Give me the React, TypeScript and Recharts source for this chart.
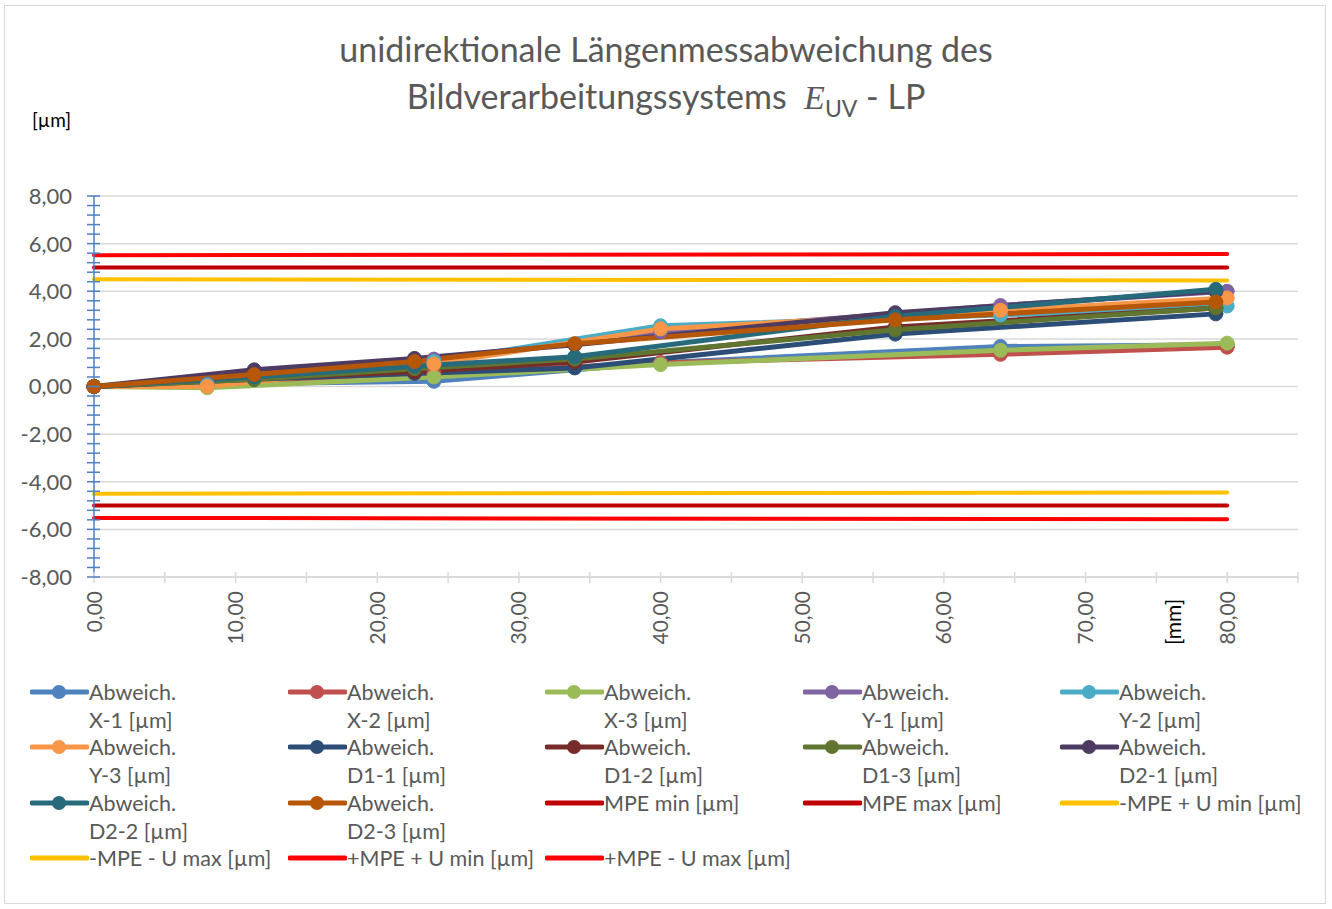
import { LineChart, Line, XAxis, YAxis, CartesianGrid } from "recharts";

// x positions (mm) for the axis runs and the diagonal runs
const xAchse = [0, 8, 24, 40, 64, 80];
const xDiag = [0, 11.31, 22.63, 33.94, 56.57, 79.2];
const xGrenze = [0, 80];

// deviations in µm
const abwX1 = [0, 0.1, 0.22, 1.0, 1.68, 1.75];
const abwX2 = [0, 0.05, 0.55, 1.0, 1.35, 1.65];
const abwX3 = [0, -0.05, 0.4, 0.92, 1.52, 1.82];
const abwY1 = [0, 0.05, 1.15, 2.3, 3.4, 4.0];
const abwY2 = [0, 0.05, 1.05, 2.55, 3.0, 3.38];
const abwY3 = [0, 0.0, 0.95, 2.42, 3.2, 3.72];
const abwD11 = [0, 0.3, 0.55, 0.78, 2.2, 3.05];
const abwD12 = [0, 0.35, 0.62, 1.03, 2.5, 3.3];
const abwD13 = [0, 0.3, 0.75, 1.15, 2.38, 3.3];
const abwD21 = [0, 0.7, 1.18, 1.75, 3.1, 4.0];
const abwD22 = [0, 0.4, 0.85, 1.25, 2.95, 4.08];
const abwD23 = [0, 0.5, 1.05, 1.8, 2.8, 3.55];

// limit lines
const mpeMin = [-5, -5];
const mpeMax = [5, 5];
const mpeNegUMin = [-4.5, -4.45];
const mpeNegUMax = [4.5, 4.45];
const mpePosUMin = [5.51, 5.56];
const mpePosUMax = [-5.52, -5.57];

const xTicks = [0, 5, 10, 15, 20, 25, 30, 35, 40, 45, 50, 55, 60, 65, 70, 75, 80, 85];
const yMajor = [-8, -6, -4, -2, 0, 2, 4, 6, 8];
const yTicks = Array.from({ length: 41 }, (_, i) => Math.round((-8 + i * 0.4) * 10) / 10);

const toRows = (xs: number[], ys: number[]) => xs.map((x, i) => ({ x, y: ys[i] }));

interface Serie {
  name: string;
  label1: string;
  label2?: string;
  color: string;
  data: { x: number; y: number }[];
  marker: boolean;
}

const serien: Serie[] = [
  { name: "x1", label1: "Abweich.", label2: "X-1 [µm]", color: "#4F81BD", data: toRows(xAchse, abwX1), marker: true },
  { name: "x2", label1: "Abweich.", label2: "X-2 [µm]", color: "#C0504D", data: toRows(xAchse, abwX2), marker: true },
  { name: "x3", label1: "Abweich.", label2: "X-3 [µm]", color: "#9BBB59", data: toRows(xAchse, abwX3), marker: true },
  { name: "y1", label1: "Abweich.", label2: "Y-1 [µm]", color: "#8064A2", data: toRows(xAchse, abwY1), marker: true },
  { name: "y2", label1: "Abweich.", label2: "Y-2 [µm]", color: "#4BACC6", data: toRows(xAchse, abwY2), marker: true },
  { name: "y3", label1: "Abweich.", label2: "Y-3 [µm]", color: "#F79646", data: toRows(xAchse, abwY3), marker: true },
  { name: "d11", label1: "Abweich.", label2: "D1-1 [µm]", color: "#2C4D75", data: toRows(xDiag, abwD11), marker: true },
  { name: "d12", label1: "Abweich.", label2: "D1-2 [µm]", color: "#772C2A", data: toRows(xDiag, abwD12), marker: true },
  { name: "d13", label1: "Abweich.", label2: "D1-3 [µm]", color: "#5F7530", data: toRows(xDiag, abwD13), marker: true },
  { name: "d21", label1: "Abweich.", label2: "D2-1 [µm]", color: "#4D3B62", data: toRows(xDiag, abwD21), marker: true },
  { name: "d22", label1: "Abweich.", label2: "D2-2 [µm]", color: "#276A7C", data: toRows(xDiag, abwD22), marker: true },
  { name: "d23", label1: "Abweich.", label2: "D2-3 [µm]", color: "#B65708", data: toRows(xDiag, abwD23), marker: true },
  { name: "mpemin", label1: "MPE min [µm]", color: "#C00000", data: toRows(xGrenze, mpeMin), marker: false },
  { name: "mpemax", label1: "MPE max [µm]", color: "#C00000", data: toRows(xGrenze, mpeMax), marker: false },
  { name: "nu1", label1: "-MPE + U min [µm]", color: "#FFC000", data: toRows(xGrenze, mpeNegUMin), marker: false },
  { name: "nu2", label1: "-MPE - U max [µm]", color: "#FFC000", data: toRows(xGrenze, mpeNegUMax), marker: false },
  { name: "pu1", label1: "+MPE + U min [µm]", color: "#FF0000", data: toRows(xGrenze, mpePosUMin), marker: false },
  { name: "pu2", label1: "+MPE - U max [µm]", color: "#FF0000", data: toRows(xGrenze, mpePosUMax), marker: false },
];

const FONT = "Lato, 'Noto Sans', sans-serif";
const GRAU = "#595959";
const fmt = (v: number) => v.toFixed(2).replace(".", ",");

const YTick = (props: any) => {
  const { x, y, payload } = props;
  const ax = x + 22;
  const v = payload.value;
  const major = Math.abs(v - Math.round(v / 2) * 2) < 1e-6;
  return (
    <g>
      <line x1={ax - 7} x2={ax + 6} y1={y} y2={y} stroke="#4F81BD" strokeWidth={1.5} />
      {major && (
        <text x={x} y={y} dy="0.36em" textAnchor="end" fill={GRAU} fontSize={22} fontFamily={FONT}>
          {fmt(v)}
        </text>
      )}
    </g>
  );
};

const XTick = (props: any) => {
  const { x, y, payload } = props;
  const ay = y - 10;
  const v = payload.value;
  const ly = ay + 14;
  return (
    <g>
      <line x1={x} x2={x} y1={ay - 5} y2={ay + 6} stroke="#D9D9D9" strokeWidth={1.5} />
      {v % 10 === 0 && (
        <text
          x={x}
          y={ly}
          dy="0.36em"
          textAnchor="end"
          fill={GRAU}
          fontSize={21}
          fontFamily={FONT}
          transform={`rotate(-90, ${x}, ${ly})`}
        >
          {fmt(v)}
        </text>
      )}
    </g>
  );
};

const Legende = () => {
  const colX = [30, 288, 545, 803, 1060];
  const rowY = [678, 733, 789, 844];
  return (
    <>
      {serien.map((s, i) => {
        const left = colX[i % 5];
        const top = rowY[Math.floor(i / 5)];
        return (
          <div key={s.name} style={{ position: "absolute", left, top, fontFamily: FONT, fontSize: 21.5, color: GRAU, lineHeight: "28px" }}>
            <svg width={59} height={28} style={{ position: "absolute", left: 0, top: 0 }}>
              <line x1={2} x2={57} y1={14} y2={14} stroke={s.color} strokeWidth={5} strokeLinecap="round" />
              {s.marker && <circle cx={29} cy={14} r={7} fill={s.color} />}
            </svg>
            <div style={{ marginLeft: 59, whiteSpace: "nowrap" }}>{s.label1}</div>
            {s.label2 && <div style={{ marginLeft: 59, whiteSpace: "nowrap" }}>{s.label2}</div>}
          </div>
        );
      })}
    </>
  );
};

export default function App() {
  return (
    <div style={{ position: "absolute", left: 0, top: 0, width: 1332, height: 909, background: "#fff", overflow: "hidden" }}>
      <div style={{ position: "absolute", left: 4, top: 5, width: 1322, height: 899, border: "1.5px solid #D9D9D9", boxSizing: "border-box" }} />
      <div style={{ position: "absolute", left: 0, top: 25, width: 1332, textAlign: "center", fontFamily: FONT, fontSize: 34, color: GRAU, lineHeight: "47px" }}>
        <div>unidirektionale Längenmessabweichung des</div>
        <div>
          Bildverarbeitungssystems&nbsp;&nbsp;
          <span style={{ fontFamily: "'Liberation Serif', serif", fontStyle: "italic", fontSize: 34 }}>E</span>
          <span style={{ fontSize: 23, position: "relative", top: 8 }}>UV</span> - LP
        </div>
      </div>
      <div style={{ position: "absolute", left: 32, top: 108, fontFamily: FONT, fontSize: 19, color: "#000" }}>[µm]</div>
      <div
        style={{
          position: "absolute",
          left: 1172,
          top: 622,
          transform: "translate(-50%, -50%) rotate(-90deg)",
          fontFamily: FONT,
          fontSize: 21,
          color: "#000",
        }}
      >
        [mm]
      </div>
      <LineChart
        width={1332}
        height={909}
        margin={{ top: 196, right: 34, bottom: 262, left: 34 }}
        style={{ position: "absolute", left: 0, top: 0 }}
      >
        <CartesianGrid
          vertical={false}
          stroke="#D9D9D9"
          strokeWidth={1.5}
          horizontalCoordinatesGenerator={({ offset }: any) =>
            yMajor.map((v) => offset.top + ((8 - v) / 16) * offset.height)
          }
        />
        <XAxis
          type="number"
          dataKey="x"
          domain={[0, 85]}
          ticks={xTicks}
          interval={0}
          height={70}
          tickSize={0}
          tickMargin={10}
          tick={<XTick />}
          axisLine={{ stroke: "#D9D9D9", strokeWidth: 1.5 }}
          allowDuplicatedCategory={false}
        />
        <YAxis
          type="number"
          domain={[-8, 8]}
          ticks={yTicks}
          interval={0}
          width={60}
          tickSize={0}
          tickMargin={22}
          tick={<YTick />}
          axisLine={{ stroke: "#4F81BD", strokeWidth: 1.5 }}
        />
        {serien.map((s) => (
          <Line
            key={s.name}
            data={s.data}
            dataKey="y"
            type="linear"
            stroke={s.color}
            strokeWidth={s.marker ? 5 : 4}
            dot={s.marker ? { r: 7, fill: s.color, stroke: s.color, strokeWidth: 1 } : false}
            activeDot={false}
            isAnimationActive={false}
            strokeLinecap="round"
          />
        ))}
      </LineChart>
      <Legende />
    </div>
  );
}
